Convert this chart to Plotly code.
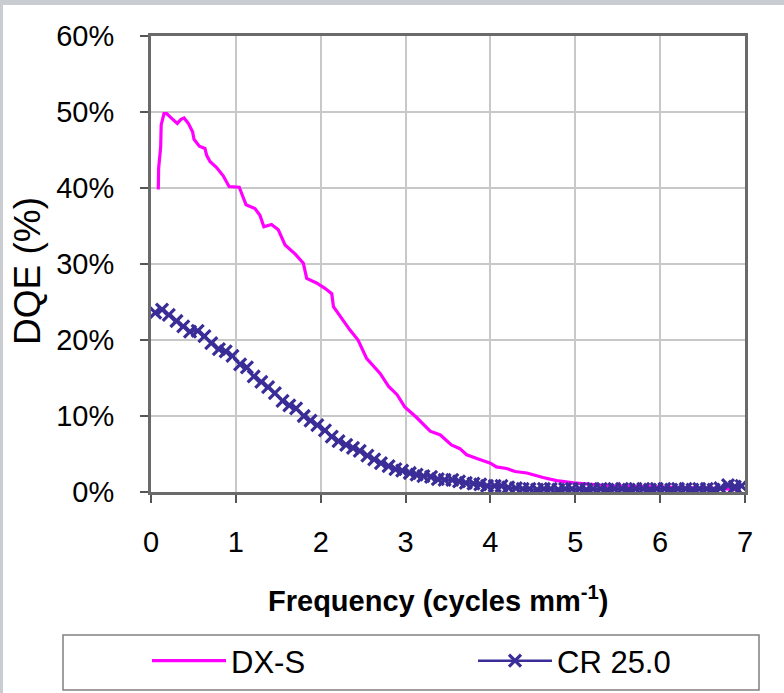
import plotly.graph_objects as go

# DX-S (magenta line)
dxs_x = [0.086, 0.09, 0.114, 0.12, 0.153, 0.185, 0.25, 0.31, 0.35, 0.39, 0.44, 0.49, 0.507,
         0.57, 0.636, 0.656, 0.695, 0.773, 0.851, 0.92, 1.04, 1.12, 1.225, 1.284, 1.33,
         1.42, 1.50, 1.58, 1.70, 1.795, 1.835, 1.95, 2.05, 2.13, 2.15, 2.23, 2.345, 2.44,
         2.54, 2.70, 2.80, 2.90, 2.99, 3.13, 3.29, 3.41, 3.54, 3.64, 3.72, 3.84, 4.0,
         4.07, 4.19, 4.29, 4.43, 4.62, 4.78, 4.98, 5.13, 5.4, 5.8, 6.2, 6.6, 6.95]
dxs_y = [39.8, 42.6, 45.4, 48.3, 49.8, 49.8, 49.1, 48.5, 49.0, 49.2, 48.5, 47.4, 46.4,
         45.5, 45.2, 44.3, 43.5, 42.7, 41.6, 40.2, 40.1, 37.8, 37.3, 36.4, 34.9,
         35.2, 34.5, 32.5, 31.3, 30.1, 28.1, 27.5, 26.8, 26.1, 24.4, 23.1, 21.3, 20.0,
         17.6, 15.6, 13.9, 12.8, 11.2, 9.8, 8.0, 7.5, 6.2, 5.7, 4.9, 4.4, 3.8,
         3.3, 3.1, 2.7, 2.5, 1.9, 1.5, 1.2, 1.05, 0.8, 0.7, 0.6, 0.5, 0.3]

# CR 25.0 (dark blue line with x markers)
cr_x = [0.05, 0.13, 0.21, 0.30, 0.38, 0.46, 0.55, 0.63, 0.71, 0.80, 0.88, 0.96,
        1.05, 1.13, 1.21, 1.30, 1.38, 1.46, 1.55, 1.63, 1.71, 1.80, 1.88, 1.96,
        2.05, 2.13, 2.21, 2.30, 2.38, 2.46, 2.55, 2.63, 2.71, 2.80, 2.88, 2.96,
        3.05, 3.13, 3.21, 3.30, 3.38, 3.46, 3.55, 3.63, 3.71, 3.80, 3.88, 3.96,
        4.05, 4.13, 4.21, 4.30, 4.38, 4.46, 4.55, 4.63, 4.71, 4.80, 4.88, 4.96,
        5.05, 5.13, 5.21, 5.30, 5.38, 5.46, 5.55, 5.63, 5.71, 5.80, 5.88, 5.96,
        6.05, 6.13, 6.21, 6.30, 6.38, 6.46, 6.55, 6.63, 6.71, 6.80, 6.88, 6.96]
cr_y = [23.6, 24.0, 23.3, 22.5, 21.8, 21.1, 21.2, 20.5, 19.6, 18.8, 18.5, 17.9,
        16.8, 16.4, 15.2, 14.5, 13.8, 13.0, 12.0, 11.4, 11.0, 10.0, 9.4, 8.8,
        8.1, 7.3, 6.7, 6.2, 5.8, 5.4, 4.8, 4.3, 3.8, 3.4, 3.0, 2.8,
        2.5, 2.3, 2.1, 2.0, 1.7, 1.6, 1.6, 1.4, 1.2, 1.1, 1.0, 0.8,
        0.8, 0.8, 0.6, 0.5, 0.4, 0.4, 0.3, 0.4, 0.4, 0.3, 0.4, 0.4,
        0.4, 0.3, 0.4, 0.4, 0.3, 0.4, 0.4, 0.3, 0.4, 0.4, 0.3, 0.4,
        0.4, 0.3, 0.4, 0.4, 0.3, 0.4, 0.4, 0.3, 0.5, 0.9, 0.7, 0.8]

x_ticks = [0, 1, 2, 3, 4, 5, 6, 7]
y_ticks = [0, 10, 20, 30, 40, 50, 60]

FONT = "Liberation Sans, Arial, sans-serif"
W, H = 784, 693
L, R, T, B = 151, 39, 36, 201
PW, PH = W - L - R, H - T - B

def px(x):
    return (x - L) / PW

def py(y):
    return (H - B - y) / PH

fig = go.Figure()
fig.add_trace(go.Scatter(x=dxs_x, y=dxs_y, mode="lines", name="DX-S",
                         line=dict(color="#ff00ff", width=3.2), legend="legend"))
fig.add_trace(go.Scatter(x=cr_x, y=cr_y, mode="lines+markers", name="CR 25.0",
                         line=dict(color="#3a2d97", width=2.5), legend="legend2",
                         marker=dict(symbol="x-thin", size=12,
                                     line=dict(color="#3a2d97", width=3.2))))

legend_common = dict(orientation="h", yanchor="middle", xanchor="left",
                     bgcolor="rgba(0,0,0,0)", borderwidth=0,
                     font=dict(family=FONT, size=31, color="black"),
                     itemwidth=74)

fig.update_layout(
    width=W, height=H,
    margin=dict(l=L, r=R, t=T, b=B, pad=0, autoexpand=False),
    paper_bgcolor="white", plot_bgcolor="white",
    font=dict(family=FONT, color="black", size=29),
    showlegend=True,
    legend=dict(x=px(147), y=py(661), **legend_common),
    legend2=dict(x=px(473), y=py(661), **legend_common),
    xaxis=dict(range=[0, 7], tickvals=x_ticks, ticktext=[str(v) for v in x_ticks],
               showgrid=True, gridcolor="#c8c8c8", gridwidth=1.5,
               showline=True, linecolor="#6a6a6a", linewidth=3, mirror=True,
               ticks="outside", ticklen=8, tickwidth=2, tickcolor="#555555",
               tickfont=dict(family=FONT, size=29), ticklabelstandoff=14,
               zeroline=False),
    yaxis=dict(range=[0, 60], tickvals=y_ticks, ticktext=[f"{v}%" for v in y_ticks],
               showgrid=True, gridcolor="#c8c8c8", gridwidth=1.5,
               showline=True, linecolor="#6a6a6a", linewidth=3, mirror=True,
               ticks="outside", ticklen=8, tickwidth=2, tickcolor="#555555",
               tickfont=dict(family=FONT, size=29), ticklabelstandoff=20,
               zeroline=False),
    shapes=[
        dict(type="rect", xref="paper", yref="paper", x0=px(63), x1=px(759),
             y0=py(690), y1=py(635), line=dict(color="#808080", width=1.5),
             fillcolor="rgba(0,0,0,0)", layer="above"),
        dict(type="rect", xref="paper", yref="paper", x0=px(0), x1=px(784),
             y0=py(5), y1=py(0), line=dict(width=0), fillcolor="#c9ccd1"),
        dict(type="rect", xref="paper", yref="paper", x0=px(0), x1=px(3),
             y0=py(693), y1=py(0), line=dict(width=0), fillcolor="#c9ccd1"),
    ],
    annotations=[
        dict(text="<b>Frequency (cycles mm<sup>-1</sup>)</b>", xref="paper", yref="paper",
             x=px(438), y=py(599), xanchor="center", yanchor="middle", showarrow=False,
             font=dict(family=FONT, size=29, color="black")),
        dict(text="DQE (%)", xref="paper", yref="paper", textangle=-90,
             x=px(27), y=py(271), xanchor="center", yanchor="middle", showarrow=False,
             font=dict(family=FONT, size=37, color="black")),
    ],
)

fig.write_html("out.html")
